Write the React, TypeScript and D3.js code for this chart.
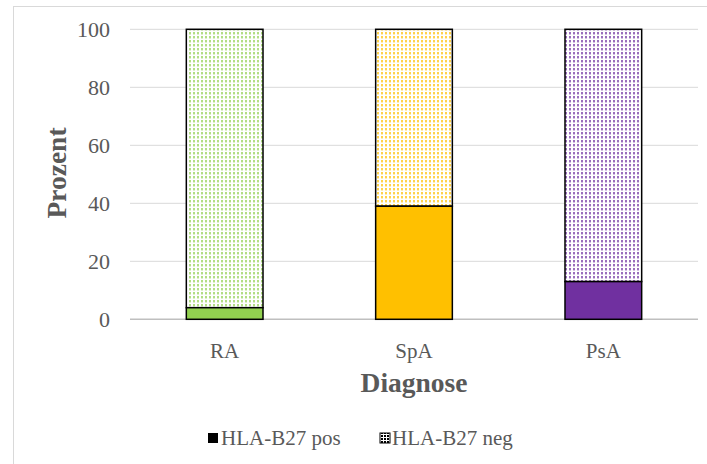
import React from "react";
import * as d3 from "d3";

const categories = ["RA", "SpA", "PsA"];
const posValues = [4, 39, 13];
const negValues = [96, 61, 87];
const barColors = ["#92D050", "#FFC000", "#7030A0"];
const yTicks = [0, 20, 40, 60, 80, 100];
const legendLabels = ["HLA-B27 pos", "HLA-B27 neg"];

const W = 707;
const H = 464;
const plot = { left: 130, right: 698, top: 29.3, bottom: 319.3 };
const font = "'Liberation Serif', 'Times New Roman', serif";

export default function App() {
  const x = d3
    .scaleBand<string>()
    .domain(categories)
    .range([plot.left, plot.right])
    .paddingInner(0.595)
    .paddingOuter(0.2975);
  const y = d3.scaleLinear().domain([0, 100]).range([plot.bottom, plot.top]);

  return (
    <svg
      width={W}
      height={H}
      style={{ position: "absolute", left: 0, top: 0, background: "#fff" }}
      fontFamily={font}
    >
      <defs>
        {barColors.map((c, i) => (
          <pattern
            key={i}
            id={`neg-${i}`}
            width={4}
            height={4}
            patternUnits="userSpaceOnUse"
          >
            <rect width={4} height={4} fill="#fff" />
            <rect x={1} y={0} width={2} height={2} fill={c} opacity={0.7} />
            <rect x={1} y={2} width={2} height={1} fill={c} opacity={0.3} />
          </pattern>
        ))}
        <pattern id="neg-legend" width={3} height={3} patternUnits="userSpaceOnUse">
          <rect width={3} height={3} fill="#fff" />
          <rect x={0} y={0} width={2} height={2} fill="#000" />
        </pattern>
      </defs>

      {/* chart area frame */}
      <rect x={13.5} y={6.5} width={W} height={H} fill="none" stroke="#D9D9D9" strokeWidth={1} />

      {/* gridlines and y tick labels */}
      {yTicks.map((t) => (
        <g key={t}>
          <line
            x1={plot.left}
            x2={plot.right}
            y1={y(t)}
            y2={y(t)}
            stroke={t === 0 ? "#BFBFBF" : "#D9D9D9"}
            strokeWidth={t === 0 ? 1.5 : 1}
          />
          <text
            x={110}
            y={y(t)}
            dy="0.35em"
            textAnchor="end"
            fontSize={22}
            fill="#595959"
          >
            {t}
          </text>
        </g>
      ))}

      {/* stacked bars */}
      {categories.map((c, i) => {
        const bx = x(c)!;
        const bw = x.bandwidth();
        const pos = posValues[i];
        const neg = negValues[i];
        return (
          <g key={c}>
            <rect
              x={bx}
              y={y(pos + neg)}
              width={bw}
              height={y(pos) - y(pos + neg)}
              fill={`url(#neg-${i})`}
              stroke="#000"
              strokeWidth={1.5}
            />
            <rect
              x={bx}
              y={y(pos)}
              width={bw}
              height={y(0) - y(pos)}
              fill={barColors[i]}
              stroke="#000"
              strokeWidth={1.5}
            />
            <text
              x={bx + bw / 2}
              y={351}
              dy="0.35em"
              textAnchor="middle"
              fontSize={21}
              fill="#595959"
            >
              {c}
            </text>
          </g>
        );
      })}

      {/* axis titles */}
      <text
        x={414}
        y={382}
        dy="0.35em"
        textAnchor="middle"
        fontSize={27.5}
        fontWeight="bold"
        fill="#595959"
      >
        Diagnose
      </text>
      <text
        transform={`translate(56,173) rotate(-90)`}
        dy="0.35em"
        textAnchor="middle"
        fontSize={27.5}
        fontWeight="bold"
        fill="#595959"
      >
        Prozent
      </text>

      {/* legend */}
      <rect x={208} y={433} width={10} height={10} fill="#000" />
      <text x={221} y={438} dy="0.35em" fontSize={21} fill="#595959">
        {legendLabels[0]}
      </text>
      <rect x={380} y={433} width={10} height={10} fill="url(#neg-legend)" stroke="#000" strokeWidth={1} />
      <text x={392} y={438} dy="0.35em" fontSize={21} fill="#595959">
        {legendLabels[1]}
      </text>
    </svg>
  );
}
